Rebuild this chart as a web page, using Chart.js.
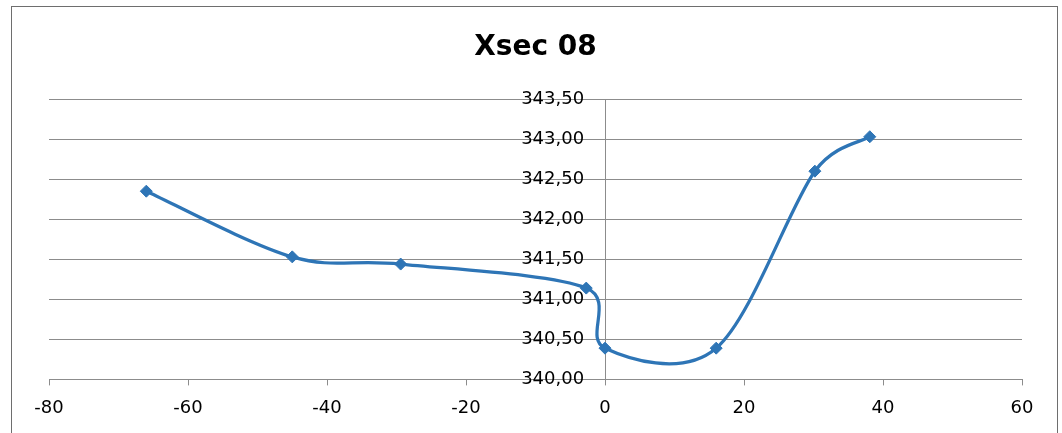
<!DOCTYPE html>
<html>
<head>
<meta charset="utf-8">
<script src="https://cdn.jsdelivr.net/npm/chart.js@4.4.0/dist/chart.umd.min.js"></script>
<style>
  html, body { margin: 0; padding: 0; background: #fff; }
  #wrap { position: relative; width: 1062px; height: 433px; overflow: hidden; }
  #frame { position: absolute; left: 11px; top: 6px; width: 1047px; height: 440px; border: 1px solid #6e6e6e; box-sizing: border-box; }
  canvas { position: absolute; left: 0; top: 0; }
</style>
</head>
<body>
<div id="wrap">
  <div id="frame"></div>
  <canvas id="c" width="1062" height="433"></canvas>
</div>
<script>
const title = 'Xsec 08';
const xValues = [-66, -45, -29.4, -2.7, 0, 16, 30.2, 38.1];
const yValues = [342.35, 341.53, 341.44, 341.14, 340.39, 340.39, 342.60, 343.03];
const xTicks = [-80, -60, -40, -20, 0, 20, 40, 60];
const yTicks = [340.0, 340.5, 341.0, 341.5, 342.0, 342.5, 343.0, 343.5];

const points = xValues.map((x, i) => ({ x: x, y: yValues[i] }));
const FONT = '"DejaVu Sans", sans-serif';
const blue = '#2E75B6';
const grey = '#8c8c8c';

// Excel-style smoothing: Catmull-Rom handles (1/6 of neighbour chord), each capped
// at half of its own segment, computed from the element pixel positions from the scales.
const excelSmooth = {
  id: 'excelSmooth',
  beforeDatasetDraw(chart, args) {
    const meta = args.meta;
    const line = meta.dataset;
    if (!line) return;
    line.updateControlPoints(chart.chartArea, 'x');
    const pts = meta.data;
    const n = pts.length;
    const dist = (a, b) => Math.hypot(b.x - a.x, b.y - a.y);
    for (let i = 0; i < n; i++) {
      const p = pts[i];
      const prev = pts[Math.max(0, i - 1)];
      const next = pts[Math.min(n - 1, i + 1)];
      let dx = (next.x - prev.x) / 6;
      let dy = (next.y - prev.y) / 6;
      const h = Math.hypot(dx, dy);
      let s1 = 1, s2 = 1;
      if (i > 0) { const cap = dist(prev, p) / 2; if (h > cap) s1 = cap / h; }
      if (i < n - 1) { const cap = dist(p, next) / 2; if (h > cap) s2 = cap / h; }
      p.cp1x = p.x - dx * s1; p.cp1y = p.y - dy * s1;
      p.cp2x = p.x + dx * s2; p.cp2y = p.y + dy * s2;
    }
  }
};

new Chart(document.getElementById('c'), {
  type: 'scatter',
  data: {
    datasets: [{
      data: points,
      showLine: true,
      borderColor: blue,
      backgroundColor: blue,
      borderWidth: 3.25,
      tension: 0.5,
      pointStyle: 'rectRot',
      pointRadius: 6,
      pointHoverRadius: 6,
      pointBorderWidth: 1,
      pointBorderColor: blue,
      pointBackgroundColor: blue
    }]
  },
  plugins: [excelSmooth],
  options: {
    responsive: false,
    animation: false,
    events: [],
    layout: { padding: { left: 49, right: 40, top: 0, bottom: 2 } },
    plugins: {
      legend: { display: false },
      tooltip: { enabled: false },
      title: {
        display: true,
        text: title,
        color: '#000',
        font: { family: FONT, size: 28, weight: 'bold' },
        padding: { top: 31, bottom: 34.5 }
      }
    },
    scales: {
      x: {
        type: 'linear',
        min: xTicks[0],
        max: xTicks[xTicks.length - 1],
        afterBuildTicks: (s) => { s.ticks = xTicks.map(v => ({ value: v })); },
        ticks: { color: '#000', font: { family: FONT, size: 18 }, padding: 12, maxRotation: 0 },
        grid: {
          drawOnChartArea: true,
          drawTicks: true,
          tickLength: 6,
          tickColor: grey,
          color: (ctx) => (ctx.tick && ctx.tick.value === 0 ? grey : 'rgba(0,0,0,0)')
        },
        border: { color: grey, width: 1 }
      },
      y: {
        type: 'linear',
        position: { x: -3 },
        min: yTicks[0],
        max: yTicks[yTicks.length - 1],
        afterBuildTicks: (s) => { s.ticks = yTicks.map(v => ({ value: v })); },
        ticks: {
          color: '#000',
          font: { family: FONT, size: 18 },
          padding: 0,
          callback: (v) => Number(v).toFixed(2).replace('.', ',')
        },
        grid: { color: grey, drawTicks: false },
        border: { display: false }
      }
    }
  }
});
</script>
</body>
</html>
